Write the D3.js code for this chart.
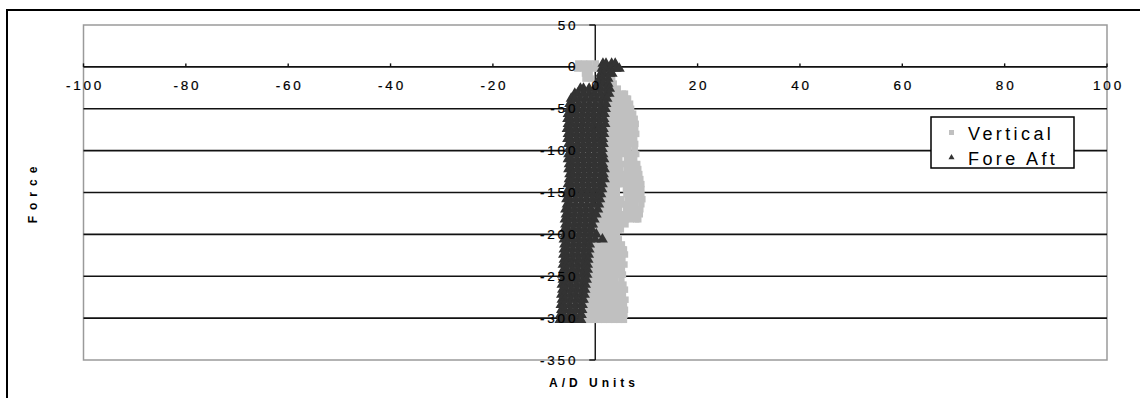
<!DOCTYPE html>
<html><head><meta charset="utf-8">
<script src="https://cdn.jsdelivr.net/npm/d3@7"></script>
<style>
html,body{margin:0;padding:0;background:#fff;}
svg{display:block;}
text{font-family:"Liberation Sans",Arial,sans-serif;}
</style></head>
<body>
<svg id="chart" width="1140" height="398"></svg>
<script>
// ---- data ----
const xTicks = [-100, -80, -60, -40, -20, 0, 20, 40, 60, 80, 100];
const yTicks = [50, 0, -50, -100, -150, -200, -250, -300, -350];
const seriesNames = ["Vertical", "Fore Aft"];
const xTitle = "A/D Units";
const yTitle = "Force";

// Vertical: [force, [A/D readings at that force]]
const vertical = [
 [4, [-3.3,-2.2,-1.1,0.1]],
 [-2, [-3.5,-2.4,-1.3,-0.2,0.4]],
 [-8, [-2.0,-1.1]],
 [-14, [-1.9,-0.9,3.3]],
 [-20, [2.8,3.6]],
 [-26, [2.6,3.5,4.4]],
 [-32, [2.4,3.4,4.4,5.4,5.8]],
 [-38, [2.2,3.2,4.2,5.2,6.2,6.4]],
 [-44, [2.1,3.1,4.1,5.1,6.1,6.8]],
 [-50, [2.0,3.0,4.0,5.0,6.0,7.0]],
 [-56, [1.9,2.9,3.9,4.9,5.9,6.9,7.4]],
 [-62, [1.8,2.8,3.8,4.8,5.8,6.8,7.7]],
 [-68, [1.9,2.9,3.9,4.9,5.9,6.9,7.9]],
 [-74, [1.7,2.7,3.7,4.7,5.7,6.7,7.8]],
 [-80, [1.8,2.8,3.8,4.8,5.8,6.8,8.0]],
 [-86, [1.6,2.6,3.6,4.6,5.6,6.6,7.6]],
 [-92, [1.7,2.7,3.7,4.7,5.7,6.7,7.8]],
 [-98, [1.5,2.5,3.5,4.5,5.5,6.5,7.7]],
 [-104, [1.6,2.6,3.6,4.6,5.6,6.6,7.6,8.0]],
 [-110, [1.7,2.7,3.7,4.7,6.2,7.2,7.6]],
 [-116, [1.6,2.6,3.6,4.6,5.6,6.6,7.6,8.2]],
 [-122, [1.8,2.8,3.8,4.8,6.1,7.1,8.1,8.4]],
 [-128, [1.7,2.7,3.7,4.7,5.7,6.7,7.7,8.6]],
 [-134, [1.9,2.9,3.9,4.9,6.0,7.0,8.0,8.8]],
 [-140, [1.5,2.5,3.5,4.5,5.5,6.5,7.5,8.5,9.0]],
 [-146, [1.4,2.4,3.4,4.2,6.0,7.0,8.0,9.0]],
 [-152, [1.2,2.2,3.2,4.2,6.1,7.1,8.1,9.0]],
 [-158, [1.0,2.0,3.0,4.0,5.0,6.3,7.3,8.3,9.2]],
 [-164, [0.8,1.8,2.8,3.8,4.8,5.8,6.8,7.8,9.0]],
 [-170, [0.6,1.6,2.6,3.6,4.6,6.0,7.0,8.0,8.8]],
 [-176, [0.3,1.3,2.3,3.3,4.3,5.3,6.3,7.3,8.3,8.7]],
 [-182, [0.0,1.0,2.0,3.0,4.0,5.0,6.0,7.0,8.0,8.4]],
 [-188, [-0.2,0.8,1.8,2.8,3.8,4.8,5.9]],
 [-194, [-0.4,0.6,1.6,2.6,3.6,4.6,5.0]],
 [-200, [-0.3,0.7,1.7,2.7,3.7,4.2]],
 [-206, [0.6,1.6,2.6,3.6,4.6]],
 [-212, [-0.5,0.5,1.5,2.5,3.5,4.5,5.2]],
 [-218, [-0.6,0.4,1.4,2.4,3.4,4.4,5.4,5.6]],
 [-224, [-0.7,0.3,1.3,2.3,3.3,4.3,5.3,5.8]],
 [-230, [-0.8,0.2,1.2,2.2,3.2,4.2,5.3]],
 [-236, [-0.9,0.1,1.1,2.1,3.1,4.1,5.1,5.7]],
 [-242, [-0.9,0.1,1.1,2.1,3.1,4.1,5.2]],
 [-248, [-1.0,0.0,1.0,2.0,3.0,4.0,5.0,5.4]],
 [-254, [-1.1,-0.1,0.9,1.9,2.9,3.9,5.1]],
 [-260, [-1.3,-0.3,0.7,1.7,2.7,3.7,4.7,5.5]],
 [-266, [-1.4,-0.4,0.6,1.6,2.6,3.6,4.6,5.8]],
 [-272, [-1.5,-0.5,0.5,1.5,2.5,3.5,4.5,5.4]],
 [-278, [-1.7,-0.7,0.3,1.3,2.3,3.3,4.3,5.3,5.9]],
 [-284, [-1.9,-0.9,0.1,1.1,2.1,3.1,4.1,5.1,5.6]],
 [-290, [-2.0,-1.0,0.0,1.0,2.0,3.0,4.0,5.0,5.8]],
 [-296, [-2.1,-1.1,-0.1,0.9,1.9,2.9,3.9,4.9,5.7]],
 [-302, [-2.3,-1.3,-0.3,0.7,1.7,2.7,3.7,4.7,5.6]]
];

// Fore Aft: [force, [A/D readings at that force]]
const foreAft = [
 [4, [1.5,2.1,3.2,3.9]],
 [-2, [1.3,1.9,3.0,4.1,4.7]],
 [-8, [1.1,1.7,2.8,3.3]],
 [-14, [0.8,1.4,2.5]],
 [-20, [0.7,1.5,2.5]],
 [-26, [-2.9,-2.3,-1.2,-0.1,1.0,2.1,2.8]],
 [-32, [-4.0,-3.4,-2.3,-1.2,-0.1,1.0,2.1,2.7]],
 [-38, [-4.7,-4.1,-3.0,-1.9,-0.8,0.3,1.4,2.3]],
 [-44, [-5.0,-4.4,-3.3,-2.2,-1.1,0.0,1.1,2.1]],
 [-50, [-5.1,-4.5,-3.4,-2.3,-1.2,-0.1,1.0,2.0]],
 [-56, [-5.3,-4.7,-3.6,-2.5,-1.4,-0.3,0.8,1.8]],
 [-62, [-5.4,-4.8,-3.7,-2.6,-1.5,-0.4,0.7,1.7]],
 [-68, [-5.3,-4.7,-3.6,-2.5,-1.4,-0.3,0.8,1.9]],
 [-74, [-5.5,-4.9,-3.8,-2.7,-1.6,-0.5,0.6,1.6]],
 [-80, [-5.3,-4.7,-3.6,-2.5,-1.4,-0.3,0.8,1.7]],
 [-86, [-5.4,-4.8,-3.7,-2.6,-1.5,-0.4,0.7,1.5]],
 [-92, [-5.2,-4.6,-3.5,-2.4,-1.3,-0.2,0.9,1.6]],
 [-98, [-5.1,-4.5,-3.4,-2.3,-1.2,-0.1,1.0,1.4]],
 [-104, [-5.2,-4.6,-3.5,-2.4,-1.3,-0.2,0.9,1.5]],
 [-110, [-5.3,-4.7,-3.6,-2.5,-1.4,-0.3,0.8,1.7]],
 [-116, [-5.1,-4.5,-3.4,-2.3,-1.2,-0.1,1.0,1.5]],
 [-122, [-5.2,-4.6,-3.5,-2.4,-1.3,-0.2,0.9,1.8]],
 [-128, [-5.0,-4.4,-3.3,-2.2,-1.1,0.0,1.1,1.6]],
 [-134, [-5.1,-4.5,-3.4,-2.3,-1.2,-0.1,1.0,1.8]],
 [-140, [-5.3,-4.7,-3.6,-2.5,-1.4,-0.3,0.8,1.4]],
 [-146, [-5.2,-4.6,-3.5,-2.4,-1.3,-0.2,0.9,1.3]],
 [-152, [-5.5,-4.9,-3.8,-2.7,-1.6,-0.5,0.6,1.1]],
 [-158, [-5.6,-5.0,-3.9,-2.8,-1.7,-0.6,0.5,0.9]],
 [-164, [-5.5,-4.9,-3.8,-2.7,-1.6,-0.5,0.7]],
 [-170, [-5.8,-5.2,-4.1,-3.0,-1.9,-0.8,0.5]],
 [-176, [-5.7,-5.1,-4.0,-2.9,-1.8,-0.7,0.2]],
 [-182, [-5.9,-5.3,-4.2,-3.1,-2.0,-0.9,-0.2]],
 [-188, [-5.8,-5.2,-4.1,-3.0,-1.9,-0.8,-0.5]],
 [-194, [-6.0,-5.4,-4.3,-3.2,-2.1,-1.0,-0.7]],
 [-200, [-5.9,-5.3,-4.2,-3.1,-2.0,-0.9,0.2]],
 [-206, [-6.1,-5.5,-4.4,-3.3,-2.2,-1.1,0.0,1.4]],
 [-212, [-6.0,-5.4,-4.3,-3.2,-2.1,-1.1]],
 [-218, [-6.1,-5.5,-4.4,-3.3,-2.2,-1.2]],
 [-224, [-6.2,-5.6,-4.5,-3.4,-2.3,-1.3]],
 [-230, [-6.1,-5.5,-4.4,-3.3,-2.2,-1.4]],
 [-236, [-6.3,-5.7,-4.6,-3.5,-2.4,-1.5]],
 [-242, [-6.2,-5.6,-4.5,-3.4,-2.3,-1.5]],
 [-248, [-6.4,-5.8,-4.7,-3.6,-2.5,-1.6]],
 [-254, [-6.3,-5.7,-4.6,-3.5,-2.4,-1.7]],
 [-260, [-6.5,-5.9,-4.8,-3.7,-2.6,-1.9]],
 [-266, [-6.4,-5.8,-4.7,-3.6,-2.5,-2.0]],
 [-272, [-6.6,-6.0,-4.9,-3.8,-2.7,-2.1]],
 [-278, [-6.5,-5.9,-4.8,-3.7,-2.6,-2.3]],
 [-284, [-6.7,-6.1,-5.0,-3.9,-2.8,-2.5]],
 [-290, [-6.6,-6.0,-4.9,-3.8,-2.7,-2.6]],
 [-296, [-6.8,-6.2,-5.1,-4.0,-2.9,-2.7]],
 [-302, [-6.9,-6.3,-5.2,-4.1,-3.0,-2.8]]
];

// ---- drawing ----
const svg = d3.select("#chart");
const x = d3.scaleLinear().domain([-100, 100]).range([83.5, 1107]);
const y = d3.scaleLinear().domain([-350, 50]).range([360, 25]);

const flat = rows => rows.flatMap(([f, xs]) => xs.map(v => ({f, v})));

// outer frame
svg.append("path").attr("d", "M7,398 V10 H1141").attr("fill", "none")
  .attr("stroke", "#000").attr("stroke-width", 2);

// plot area border
svg.append("rect").attr("x", x(-100)).attr("y", y(50))
  .attr("width", x(100) - x(-100)).attr("height", y(-350) - y(50))
  .attr("fill", "#fff").attr("stroke", "#9a9a9a").attr("stroke-width", 1.5);

// horizontal gridlines
svg.append("g").selectAll("line").data(yTicks.filter(t => t < 50 && t > -350)).join("line")
  .attr("x1", x(-100)).attr("x2", x(100))
  .attr("y1", d => y(d)).attr("y2", d => y(d))
  .attr("stroke", "#111").attr("stroke-width", 1.6);

// y axis line (at x = 0)
svg.append("line").attr("x1", x(0)).attr("x2", x(0)).attr("y1", y(50)).attr("y2", y(-350))
  .attr("stroke", "#111").attr("stroke-width", 1.4);
svg.append("g").selectAll("line").data(yTicks).join("line")
  .attr("x1", x(0) - 6).attr("x2", x(0))
  .attr("y1", d => y(d)).attr("y2", d => y(d))
  .attr("stroke", "#111").attr("stroke-width", 1.4);

// x axis ticks (axis line at force 0)
svg.append("g").selectAll("line").data(xTicks).join("line")
  .attr("x1", d => x(d)).attr("x2", d => x(d))
  .attr("y1", y(0) - 3.5).attr("y2", y(0))
  .attr("stroke", "#111").attr("stroke-width", 1.4);

// data: Vertical (light squares) then Fore Aft (dark triangles)
const sq = 6.5;
svg.append("g").selectAll("rect").data(flat(vertical)).join("rect")
  .attr("x", d => x(d.v) - sq / 2).attr("y", d => y(d.f) - sq / 2)
  .attr("width", sq).attr("height", sq).attr("fill", "#c0c0c0");

const tri = d3.symbol().type(d3.symbolTriangle).size(52);
svg.append("g").selectAll("path").data(flat(foreAft)).join("path")
  .attr("d", tri)
  .attr("transform", d => `translate(${x(d.v)},${y(d.f)})`)
  .attr("fill", "#333");

// tick labels
svg.append("g").selectAll("text").data(xTicks).join("text")
  .attr("x", d => x(d) + 1.5).attr("y", y(0) + 23)
  .attr("text-anchor", "middle")
  .attr("font-size", 13.5).attr("letter-spacing", 2.8).attr("fill", "#000")
  .attr("stroke", "#000").attr("stroke-width", 0.2)
  .text(d => d);
svg.append("g").selectAll("text").data(yTicks).join("text")
  .attr("x", x(0) - 17).attr("y", d => y(d) + 4.5)
  .attr("text-anchor", "end")
  .attr("font-size", 13.5).attr("letter-spacing", 2.8).attr("fill", "#000")
  .attr("stroke", "#000").attr("stroke-width", 0.2)
  .text(d => d);

// axis titles
svg.append("text").attr("x", 594).attr("y", 387).attr("text-anchor", "middle")
  .attr("font-size", 12).attr("font-weight", "bold").attr("letter-spacing", 4)
  .text(xTitle);
svg.append("text").attr("transform", "translate(37,192) rotate(-90)")
  .attr("text-anchor", "middle")
  .attr("font-size", 12).attr("font-weight", "bold").attr("letter-spacing", 6)
  .text(yTitle);

// legend
const lg = svg.append("g");
lg.append("rect").attr("x", 931).attr("y", 117).attr("width", 143).attr("height", 51)
  .attr("fill", "#fff").attr("stroke", "#000").attr("stroke-width", 1.5);
lg.append("rect").attr("x", 949).attr("y", 130).attr("width", 5).attr("height", 5).attr("fill", "#c0c0c0");
lg.append("path").attr("d", d3.symbol().type(d3.symbolTriangle).size(16)())
  .attr("transform", "translate(951.5,157.5)").attr("fill", "#333");
lg.selectAll("text.lab").data(seriesNames).join("text").attr("class", "lab")
  .attr("x", 968).attr("y", (d, i) => 140 + i * 25)
  .attr("font-size", 18).attr("letter-spacing", 3.4).attr("fill", "#000")
  .text(d => d);
</script>
</body></html>
